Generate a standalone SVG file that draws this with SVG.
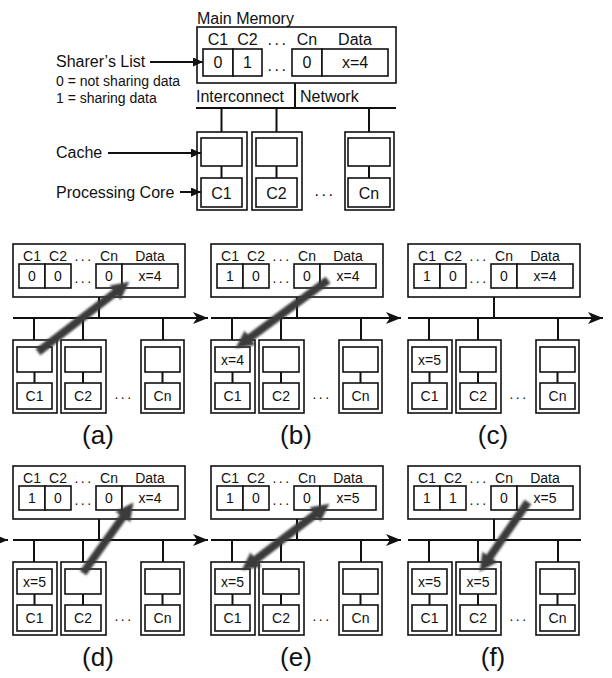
<svg xmlns="http://www.w3.org/2000/svg" width="612" height="678" viewBox="0 0 612 678">
<defs>
<style>
text{font-family:"Liberation Sans",Arial,sans-serif;fill:#111}
.b{fill:#fff;stroke:#111;stroke-width:1.6}
.l{stroke:#111;stroke-width:2;fill:none}
.t16{font-size:16px}
.t14{font-size:14px}
.m{text-anchor:middle}
.d{letter-spacing:2.5px}
.lab{font-size:26px;text-anchor:middle}
.g{stroke:#3a3a3a;stroke-width:8;fill:none;filter:url(#blur)}
</style>
<filter id="blur" x="-20%" y="-20%" width="140%" height="140%"><feGaussianBlur stdDeviation="0.8"/></filter>
<marker id="ah" markerUnits="userSpaceOnUse" markerWidth="12" markerHeight="10" refX="10" refY="4.5" orient="auto"><path d="M0,0 L10,4.5 L0,9 z" fill="#111"/></marker>
<marker id="bh" markerUnits="userSpaceOnUse" markerWidth="16" markerHeight="14" refX="15" refY="6" orient="auto"><path d="M0,0 L15,6 L0,12 L4,6 z" fill="#111"/></marker>
<marker id="gh" markerUnits="userSpaceOnUse" markerWidth="20" markerHeight="20" refX="5" refY="9" orient="auto-start-reverse"><path d="M0,0 L18,9 L0,18 z" fill="#3a3a3a"/></marker>
<g id="panel">
<rect class="b" x="13" y="244" width="172" height="53"/>
<text class="t14 m" x="32" y="261">C1</text><text class="t14 m" x="58" y="261">C2</text><text class="t14 m d" x="84" y="261">...</text><text class="t14 m" x="109" y="261">Cn</text><text class="t14 m" x="150" y="261">Data</text>
<rect class="b" x="19" y="264" width="26" height="24"/><rect class="b" x="45" y="264" width="26" height="24"/><rect class="b" x="96" y="264" width="26" height="24"/><rect class="b" x="122" y="264" width="56" height="24"/>
<text class="t14 m d" x="84" y="283">...</text>
<line class="l" x1="99" y1="297" x2="99" y2="318"/>
<line class="l" x1="34" y1="318" x2="34" y2="340"/><line class="l" x1="83" y1="318" x2="83" y2="340"/><line class="l" x1="163" y1="318" x2="163" y2="340"/>
<rect class="b" x="13" y="340" width="44" height="73"/><rect class="b" x="61" y="340" width="45" height="73"/><rect class="b" x="141" y="340" width="43" height="73"/>
<rect class="b" x="17" y="347" width="35" height="25"/><rect class="b" x="65" y="347" width="36" height="25"/><rect class="b" x="145" y="347" width="35" height="25"/>
<line class="l" x1="34.5" y1="372" x2="34.5" y2="383"/><line class="l" x1="83" y1="372" x2="83" y2="383"/><line class="l" x1="162.5" y1="372" x2="162.5" y2="383"/>
<rect class="b" x="17" y="383" width="35" height="26"/><rect class="b" x="65" y="383" width="36" height="26"/><rect class="b" x="145" y="383" width="35" height="26"/>
<text class="t14 m" x="34.5" y="401">C1</text><text class="t14 m" x="83" y="401">C2</text><text class="t14 m" x="162.5" y="401">Cn</text>
<text class="t14 m d" x="124" y="399">...</text>
</g>
</defs>

<g id="overview">
<text class="t16" x="197" y="24">Main Memory</text>
<rect class="b" x="197" y="27" width="199" height="56"/>
<text class="t16 m" x="218" y="45">C1</text><text class="t16 m" x="247.5" y="45">C2</text><text class="t16 m d" x="278" y="45">...</text><text class="t16 m" x="307" y="45">Cn</text><text class="t16 m" x="355" y="45">Data</text>
<rect class="b" x="203" y="49" width="30" height="27"/><rect class="b" x="233" y="49" width="29" height="27"/><rect class="b" x="292" y="49" width="30" height="27"/><rect class="b" x="322" y="49" width="66" height="27"/>
<text class="t16 m" x="218" y="68">0</text><text class="t16 m" x="247.5" y="68">1</text><text class="t16 m d" x="278" y="71">...</text><text class="t16 m" x="307" y="68">0</text><text class="t16 m" x="355" y="68">x=4</text>
<line class="l" x1="295" y1="83" x2="295" y2="108"/>
<text class="t16" x="196" y="102">Interconnect</text><text class="t16" x="300" y="102">Network</text>
<line class="l" x1="196" y1="108" x2="396" y2="108"/>
<line class="l" x1="221.5" y1="108" x2="221.5" y2="132"/><line class="l" x1="276.5" y1="108" x2="276.5" y2="132"/><line class="l" x1="369" y1="108" x2="369" y2="132"/>
<rect class="b" x="197" y="132" width="50" height="78"/><rect class="b" x="252" y="132" width="50" height="78"/><rect class="b" x="345" y="132" width="49" height="78"/>
<rect class="b" x="201" y="138" width="41" height="28"/><rect class="b" x="256" y="138" width="41" height="28"/><rect class="b" x="348" y="138" width="42" height="28"/>
<line class="l" x1="221.5" y1="166" x2="221.5" y2="178"/><line class="l" x1="276.5" y1="166" x2="276.5" y2="178"/><line class="l" x1="369" y1="166" x2="369" y2="178"/>
<rect class="b" x="201" y="178" width="41" height="29"/><rect class="b" x="256" y="178" width="41" height="29"/><rect class="b" x="348" y="178" width="42" height="29"/>
<text class="t16 m" x="221.5" y="199">C1</text><text class="t16 m" x="276.5" y="199">C2</text><text class="t16 m" x="369" y="199">Cn</text>
<text class="t16 m d" x="325" y="196">...</text>
</g>

<g id="legend">
<text class="t16" x="56" y="67">Sharer’s List</text>
<text class="t14" x="56" y="86">0 = not sharing data</text>
<text class="t14" x="56" y="103">1 = sharing data</text>
<text class="t16" x="56" y="158">Cache</text>
<text class="t16" x="56" y="198">Processing Core</text>
</g>

<g id="panel-a">
<use href="#panel"/>
<text class="t14 m" x="32" y="281">0</text><text class="t14 m" x="58" y="281">0</text><text class="t14 m" x="109" y="281">0</text><text class="t14 m" x="150" y="281">x=4</text>
<text class="lab" x="98" y="444">(a)</text>
</g>
<g id="panel-b" transform="translate(198,0)">
<use href="#panel"/>
<text class="t14 m" x="32" y="281">1</text><text class="t14 m" x="58" y="281">0</text><text class="t14 m" x="109" y="281">0</text><text class="t14 m" x="150" y="281">x=4</text>
<text class="t14 m" x="34.5" y="365">x=4</text>
<text class="lab" x="98" y="444">(b)</text>
</g>
<g id="panel-c" transform="translate(395,0)">
<use href="#panel"/>
<text class="t14 m" x="32" y="281">1</text><text class="t14 m" x="58" y="281">0</text><text class="t14 m" x="109" y="281">0</text><text class="t14 m" x="150" y="281">x=4</text>
<text class="t14 m" x="34.5" y="365">x=5</text>
<text class="lab" x="98" y="444">(c)</text>
</g>
<g id="panel-d" transform="translate(0,222)">
<use href="#panel"/>
<text class="t14 m" x="32" y="281">1</text><text class="t14 m" x="58" y="281">0</text><text class="t14 m" x="109" y="281">0</text><text class="t14 m" x="150" y="281">x=4</text>
<text class="t14 m" x="34.5" y="365">x=5</text>
<text class="lab" x="98" y="444">(d)</text>
</g>
<g id="panel-e" transform="translate(198,222)">
<use href="#panel"/>
<text class="t14 m" x="32" y="281">1</text><text class="t14 m" x="58" y="281">0</text><text class="t14 m" x="109" y="281">0</text><text class="t14 m" x="150" y="281">x=5</text>
<text class="t14 m" x="34.5" y="365">x=5</text>
<text class="lab" x="98" y="444">(e)</text>
</g>
<g id="panel-f" transform="translate(395,222)">
<use href="#panel"/>
<text class="t14 m" x="32" y="281">1</text><text class="t14 m" x="58" y="281">1</text><text class="t14 m" x="109" y="281">0</text><text class="t14 m" x="150" y="281">x=5</text>
<text class="t14 m" x="34.5" y="365">x=5</text><text class="t14 m" x="83" y="365">x=5</text>
<text class="lab" x="98" y="444">(f)</text>
</g>

<g id="connectors">
<line class="l" x1="150" y1="62" x2="203" y2="62" marker-end="url(#ah)"/>
<line class="l" x1="108" y1="153" x2="201" y2="153" marker-end="url(#ah)"/>
<line class="l" x1="180" y1="192" x2="201" y2="192" marker-end="url(#ah)"/>
<line class="l" x1="13" y1="318" x2="208" y2="318" marker-end="url(#bh)"/>
<line class="l" x1="211" y1="318" x2="401" y2="318" marker-end="url(#bh)"/>
<line class="l" x1="408" y1="318" x2="603" y2="318" marker-end="url(#bh)"/>
<line class="l" x1="-4" y1="540" x2="8" y2="540" marker-end="url(#bh)"/>
<line class="l" x1="13" y1="540" x2="208" y2="540" marker-end="url(#bh)"/>
<line class="l" x1="211" y1="540" x2="401" y2="540" marker-end="url(#bh)"/>
<line class="l" x1="408" y1="540" x2="581" y2="540"/>
<line class="g" x1="38" y1="352" x2="119" y2="289.7" marker-end="url(#gh)"/>
<line class="g" x1="328" y1="280" x2="246" y2="340.6" marker-end="url(#gh)"/>
<line class="g" x1="83" y1="573" x2="125.8" y2="513" marker-end="url(#gh)"/>
<line class="g" x1="252" y1="562.5" x2="319" y2="511.5" marker-start="url(#gh)" marker-end="url(#gh)"/>
<line class="g" x1="528" y1="502" x2="487" y2="561" marker-end="url(#gh)"/>
</g>
</svg>
